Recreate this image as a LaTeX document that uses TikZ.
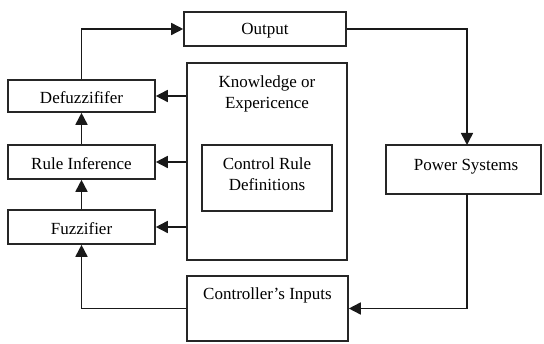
\documentclass[tikz,border=0pt]{standalone}
\usepackage{fontspec}
\setmainfont{Liberation Serif}
\usetikzlibrary{arrows.meta}
\begin{document}
\begin{tikzpicture}[x=1pt,y=-1pt,
  box/.style={draw=black!85,line width=1.6pt,rectangle,inner sep=0pt},
  txt/.style={align=center,inner sep=0pt,font=\fontsize{17}{21}\selectfont},
  arr/.style={draw=black!90,line width=1.6pt,-{Triangle[length=12pt,width=12pt]}}]
\useasboundingbox (0,0) rectangle (544,344);
% boxes
\node[box,minimum width=162pt,minimum height=34pt] (output) at (265,29) {};
\node[txt] (outputtxt) at (265,30.5) {Output};
\node[box,minimum width=160pt,minimum height=197pt] (know) at (267,161.5) {};
\node[txt] (knowtxt) at (267,93.5) {Knowledge or\\Expericence};
\node[box,minimum width=130pt,minimum height=66pt] (crd) at (267,178) {};
\node[txt] (crdtxt) at (267,174.5) {Control Rule\\Definitions};
\node[box,minimum width=147pt,minimum height=32pt] (defuzz) at (81.5,96) {};
\node[txt] (defuzztxt) at (81.5,97.5) {Defuzzififer};
\node[box,minimum width=147pt,minimum height=34pt] (rule) at (81.5,162) {};
\node[txt] (ruletxt) at (81.5,163.5) {Rule Inference};
\node[box,minimum width=147pt,minimum height=34pt] (fuzz) at (81.5,227) {};
\node[txt] (fuzztxt) at (81.5,228.5) {Fuzzifier};
\node[box,minimum width=155pt,minimum height=49pt] (power) at (463.5,169.5) {};
\node[txt] (powertxt) at (466,166.5) {Power Systems};
\node[box,minimum width=161pt,minimum height=65pt] (ctrl) at (267.5,308.5) {};
\node[txt] (ctrltxt) at (267.5,295.5) {Controller's Inputs};
% connectors
\coordinate (pin) at (467,145);
\coordinate (pout) at (467,194);
\draw[arr] (defuzz.north) |- (output.west);
\draw[arr] (output.east) -| (pin);
\draw[arr] (pout) |- (ctrl.east);
\draw[arr] (ctrl.west) -| (fuzz.south);
\draw[arr] (fuzz.north) -- (rule.south);
\draw[arr] (rule.north) -- (defuzz.south);
\draw[arr] (know.west |- defuzz.east) -- (defuzz.east);
\draw[arr] (know.west |- rule.east) -- (rule.east);
\draw[arr] (know.west |- fuzz.east) -- (fuzz.east);
\end{tikzpicture}
\end{document}
